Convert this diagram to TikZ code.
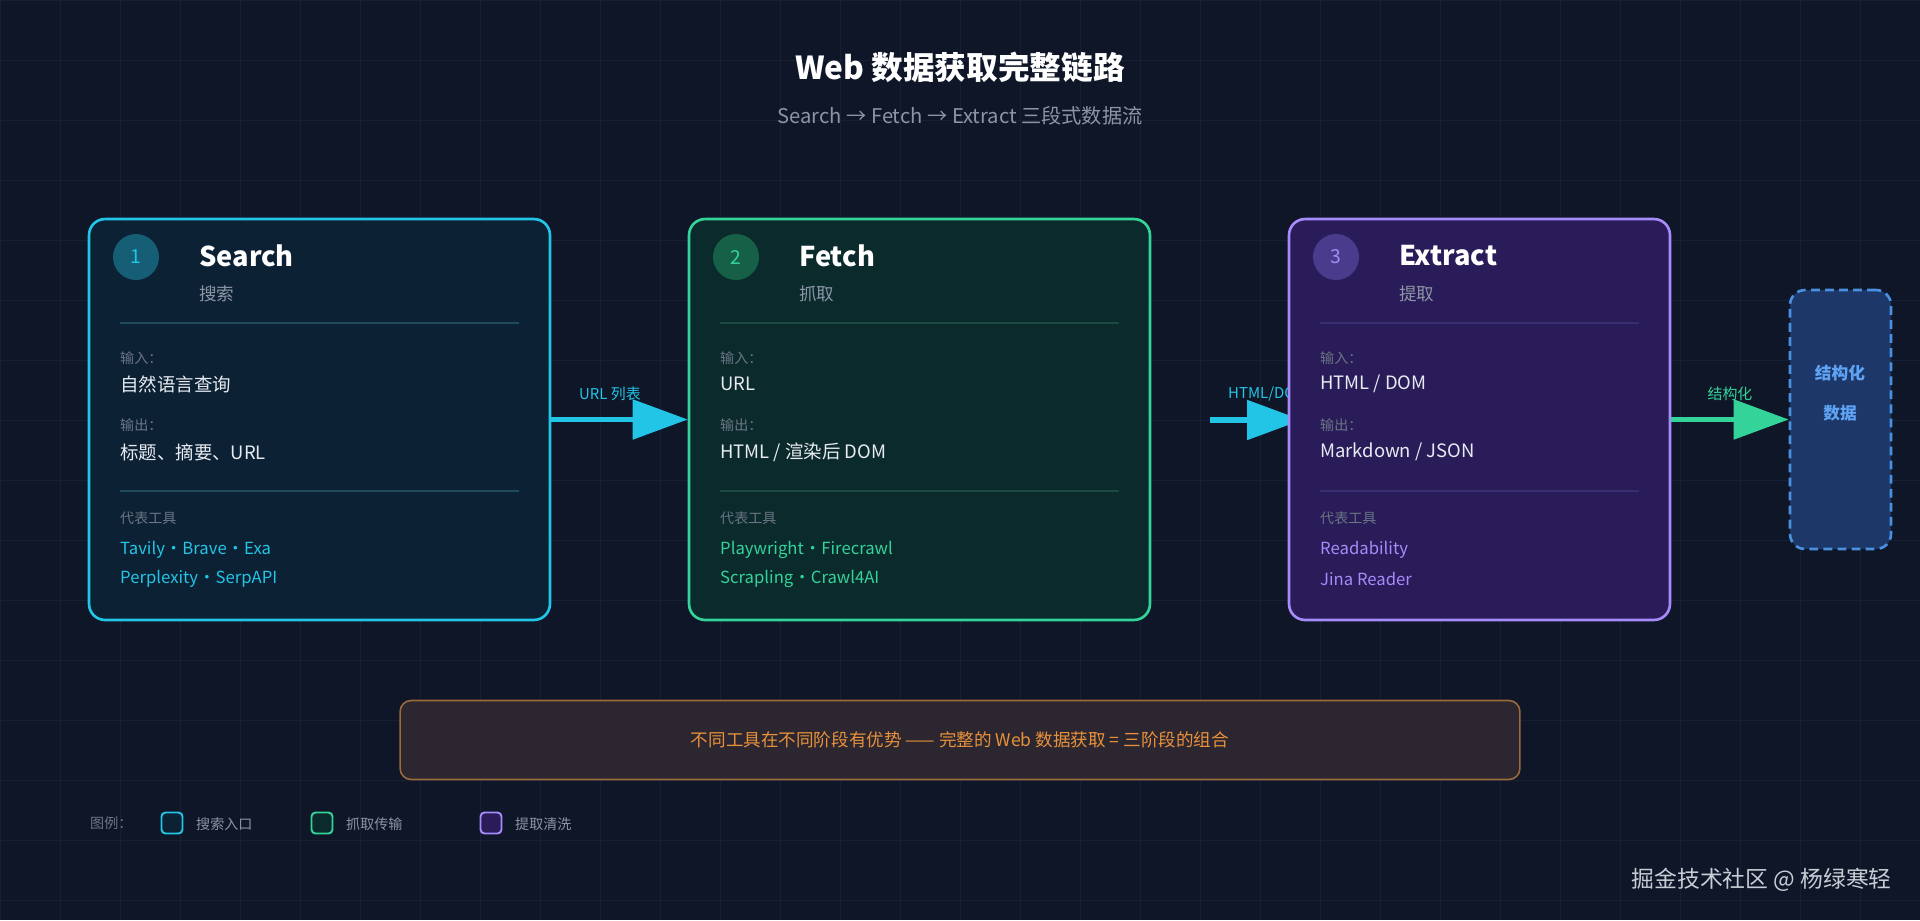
\documentclass[tikz,border=0pt]{standalone}
\usepackage{fontspec}
\setmainfont{Noto Sans CJK SC}
\usetikzlibrary{arrows.meta}
\definecolor{bg}{HTML}{0E1628}
\definecolor{gridc}{HTML}{152036}
\definecolor{cyanc}{HTML}{22C5E6}
\definecolor{greenc}{HTML}{34D399}
\definecolor{purplec}{HTML}{A78BFA}
\definecolor{labg}{HTML}{6B7585}
\definecolor{valc}{HTML}{E8ECF2}
\definecolor{subc}{HTML}{8B95A5}
\definecolor{f1c}{HTML}{0C2134}
\definecolor{f2c}{HTML}{0B2A2C}
\definecolor{f3c}{HTML}{291C58}
\definecolor{c1c}{HTML}{155E75}
\definecolor{c2c}{HTML}{176048}
\definecolor{c3c}{HTML}{4B3B8C}
\definecolor{d1c}{HTML}{1E4A5C}
\definecolor{d2c}{HTML}{1C4A42}
\definecolor{d3c}{HTML}{3A2E72}
\definecolor{finb}{HTML}{4A8FE0}
\definecolor{finf}{HTML}{1C3768}
\definecolor{fint}{HTML}{5FA3F5}
\definecolor{banb}{HTML}{9C6A3C}
\definecolor{banf}{HTML}{2C2630}
\definecolor{bant}{HTML}{E8913A}
\definecolor{wmc}{HTML}{C8CCD4}
\newcommand{\mdt}{\kern-0.2em·\kern-0.2em}
\tikzset{
 card/.style={draw=#1, line width=1.5pt, rounded corners=0.32cm, anchor=center},
 num/.style={circle, minimum size=0.92cm, font=\fontsize{11}{11}\selectfont},
 ttl/.style={anchor=west, text=white, font=\fontsize{15.5}{16}\selectfont\bfseries},
 sub/.style={anchor=west, text=subc, font=\fontsize{10}{10}\selectfont},
 lab/.style={anchor=west, text=labg, font=\fontsize{8}{8}\selectfont},
 val/.style={anchor=west, text=valc, font=\fontsize{10.5}{10.5}\selectfont},
 tool/.style={anchor=west, text=#1, font=\fontsize{9.5}{9.5}\selectfont},
 flow/.style={draw=#1, line width=3pt, -{Triangle[length=1.1cm,width=0.78cm]}, color=#1},
 elab/.style={text=#1, font=\fontsize{8.5}{8.5}\selectfont},
 leg/.style={draw=#1, line width=1.1pt, rounded corners=0.08cm, minimum width=0.42cm, minimum height=0.42cm},
 legt/.style={anchor=west, text=subc, font=\fontsize{8}{8}\selectfont},
}
\begin{document}
\begin{tikzpicture}[x=0.02cm,y=-0.02cm]
\fill[bg] (0,0) rectangle (1920,920);
\useasboundingbox (0,0) rectangle (1920,920);
\foreach \i in {0,60,...,1920} \draw[gridc, line width=0.4pt] (\i,0) -- (\i,920);
\foreach \j in {0,60,...,920} \draw[gridc, line width=0.4pt] (0,\j) -- (1920,\j);
% title
\node (title) [text=white, font=\fontsize{18}{19}\selectfont\bfseries] at (960,67) {Web 数据获取完整链路};
\node (subtitle) [text=subc, font=\fontsize{11.5}{12}\selectfont] at (960,116) {Search → Fetch → Extract 三段式数据流};
% card 1
\node (search) [card=cyanc, fill=f1c, minimum width=9.22cm, minimum height=8.02cm] at (319.5,419.5) {};
\node (n1) [num, fill=c1c, text=cyanc] at (136,257) {1};
\node (t1) [ttl] at (193,256) {Search};
\node (s1) [sub] at (193,294) {搜索};
\draw[d1c, line width=1pt] (120,323) -- (519,323);
\node (i1) [lab] at (114,358) {输入：};
\node (v1) [val] at (114,384) {自然语言查询};
\node (o1) [lab] at (114,425) {输出：};
\node (w1) [val] at (114,452) {标题、摘要、URL};
\draw[d1c, line width=1pt] (120,491) -- (519,491);
\node (r1) [lab] at (114,518) {代表工具};
\node (a1) [tool=cyanc] at (114,550) {Tavily \mdt{} Brave \mdt{} Exa};
\node (b1) [tool=cyanc] at (114,579) {Perplexity \mdt{} SerpAPI};
% card 2
\node (fetch) [card=greenc, fill=f2c, minimum width=9.22cm, minimum height=8.02cm] at (919.5,419.5) {};
\node (n2) [num, fill=c2c, text=greenc] at (736,257) {2};
\node (t2) [ttl] at (793,256) {Fetch};
\node (s2) [sub] at (793,294) {抓取};
\draw[d2c, line width=1pt] (720,323) -- (1119,323);
\node (i2) [lab] at (714,358) {输入：};
\node (v2) [val] at (714,384) {URL};
\node (o2) [lab] at (714,425) {输出：};
\node (w2) [val] at (714,452) {HTML / 渲染后 DOM};
\draw[d2c, line width=1pt] (720,491) -- (1119,491);
\node (r2) [lab] at (714,518) {代表工具};
\node (a2) [tool=greenc] at (714,550) {Playwright \mdt{} Firecrawl};
\node (b2) [tool=greenc] at (714,579) {Scrapling \mdt{} Crawl4AI};
% arrow 1
\draw[flow=cyanc] (search.east) -- (fetch.west);
\node (e1) [elab=cyanc] at (610,394) {URL 列表};
% arrow 2 (partly under card 3)
\coordinate (h2s) at (1210,420);
\coordinate (h2e) at (1302,420);
\draw[flow=cyanc] (h2s) -- (h2e);
\node (e2) [elab=cyanc, anchor=west] at (1222,394) {HTML/DOM};
% card 3
\node (extract) [card=purplec, fill=f3c, minimum width=7.62cm, minimum height=8.02cm] at (1479.5,419.5) {};
\node (n3) [num, fill=c3c, text=purplec] at (1336,257) {3};
\node (t3) [ttl] at (1393,256) {Extract};
\node (s3) [sub] at (1393,294) {提取};
\draw[d3c, line width=1pt] (1320,323) -- (1639,323);
\node (i3) [lab] at (1314,358) {输入：};
\node (v3) [val] at (1314,384) {HTML / DOM};
\node (o3) [lab] at (1314,425) {输出：};
\node (w3) [val] at (1314,452) {Markdown / JSON};
\draw[d3c, line width=1pt] (1320,491) -- (1639,491);
\node (r3) [lab] at (1314,518) {代表工具};
\node (a3) [tool=purplec] at (1314,550) {Readability};
\node (b3) [tool=purplec] at (1314,579) {Jina Reader};
% final
\node (final) [draw=finb, dash pattern=on 5pt off 3pt, line width=1.5pt, rounded corners=0.3cm, fill=finf, minimum width=2.02cm, minimum height=5.18cm] at (1840.5,419.5) {};
\node (f1) [text=fint, font=\fontsize{9.5}{9.5}\selectfont\bfseries] at (1840,373) {结构化};
\node (f2) [text=fint, font=\fontsize{9.5}{9.5}\selectfont\bfseries] at (1840,413) {数据};
\draw[flow=greenc] (extract.east) -- (final.west);
\node (e3) [elab=greenc] at (1730,394) {结构化};
% banner
\node (banner) [draw=banb, fill=banf, line width=0.9pt, rounded corners=0.22cm, minimum width=22.4cm, minimum height=1.58cm, text=bant, font=\fontsize{10}{10}\selectfont] at (960,740) {不同工具在不同阶段有优势 —— 完整的 Web 数据获取 = 三阶段的组合};
% legend
\node (lg) [legt, text=labg] at (84,823) {图例：};
\node (l1) [leg=cyanc, fill=f1c] at (172,823) {};
\node (lt1) [legt] at (190,824) {搜索入口};
\node (l2) [leg=greenc, fill=f2c] at (322,823) {};
\node (lt2) [legt] at (340,824) {抓取传输};
\node (l3) [leg=purplec, fill=f3c] at (491,823) {};
\node (lt3) [legt] at (509,824) {提取清洗};
% watermark
\node (wm) [anchor=east, text=wmc, font=\fontsize{13}{13}\selectfont] at (1898,880) {掘金技术社区 @ 杨绿寒轻};
\end{tikzpicture}
\end{document}
